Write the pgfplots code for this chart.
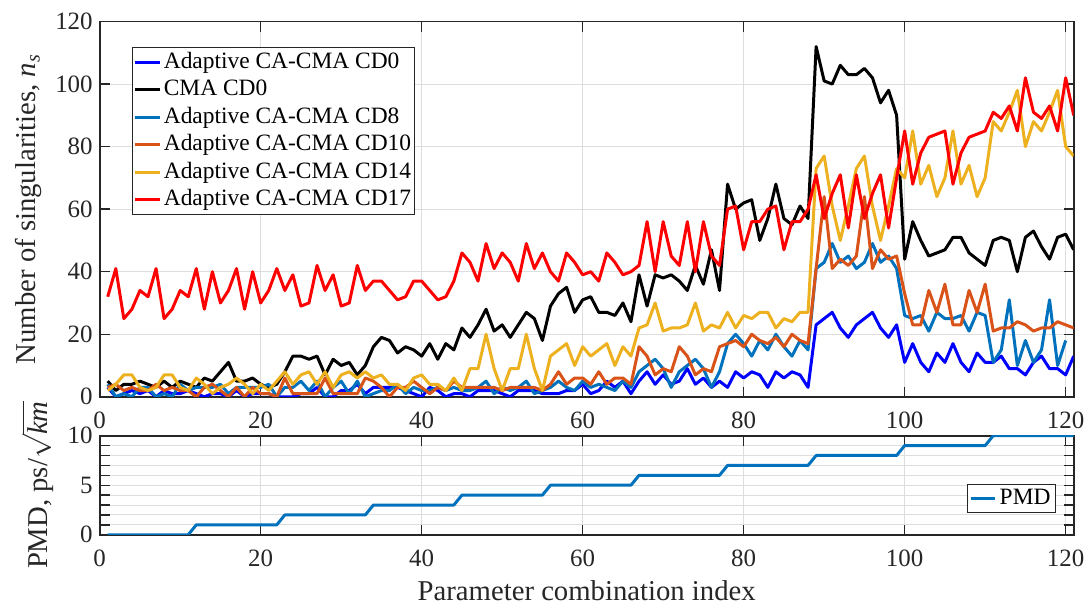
\documentclass[border=0pt]{standalone}
\usepackage{fontspec}
\setmainfont{Liberation Serif}
\usepackage{pgfplots}
\usepackage{pgfplotstable}
\pgfplotsset{compat=1.18}

\definecolor{mblue}{rgb}{0,0.447,0.741}
\definecolor{morange}{rgb}{0.851,0.325,0.098}
\definecolor{myellow}{rgb}{0.929,0.694,0.125}
\definecolor{axgray}{rgb}{0.15,0.15,0.15}
\definecolor{gridgray}{rgb}{0.87,0.87,0.87}

% singularity counts per parameter combination
\pgfplotstableread{
i cdzero cma cdeight cdten cdfourteen cdseventeen
1 3 5 4 3 2 32
2 0 2 0 4 4 41
3 1 4 1 2 7 25
4 2 4 0 3 7 28
5 1 5 3 2 3 34
6 2 4 3 2 2 32
7 0 3 0 4 3 41
8 2 5 1 2 7 25
9 1 3 0 3 7 28
10 1 5 4 2 3 34
11 2 4 2 2 2 32
12 1 3 3 0 6 41
13 0 6 3 3 4 28
14 1 5 3 4 1 40
15 1 8 4 2 3 30
16 0 11 1 0 4 34
17 2 5 3 3 6 41
18 0 5 3 0 4 28
19 1 6 3 3 1 40
20 1 4 3 1 4 30
21 1 3 4 1 2 34
22 0 4 0 0 5 41
23 0 8 3 6 8 34
24 0 13 3 1 4 39
25 1 13 5 1 7 29
26 1 12 2 1 8 30
27 3 13 5 1 4 42
28 0 7 0 6 8 34
29 0 12 3 1 3 39
30 2 10 5 1 7 29
31 2 11 1 1 8 30
32 4 7 5 1 6 42
33 1 10 0 6 8 34
34 3 16 1 5 6 37
35 3 19 2 3 7 37
36 3 18 2 0 4 34
37 3 14 4 3 4 31
38 2 16 1 3 2 32
39 1 15 3 5 6 37
40 0 13 2 3 7 37
41 3 17 2 1 4 34
42 2 12 3 3 4 31
43 0 17 2 2 2 32
44 1 15 3 5 6 37
45 1 22 2 3 2 46
46 0 19 2 3 9 43
47 2 23 3 3 9 37
48 2 28 5 3 20 49
49 2 21 1 3 9 41
50 1 23 3 2 2 46
51 0 19 2 3 9 43
52 2 23 3 3 9 37
53 2 27 5 3 20 49
54 2 25 1 3 9 41
55 1 18 2 2 2 46
56 1 29 3 4 13 40
57 1 33 5 8 15 37
58 2 35 3 4 17 46
59 2 27 2 6 10 43
60 4 31 5 6 16 39
61 1 32 3 4 13 40
62 2 27 4 8 15 37
63 5 27 3 4 17 46
64 3 26 2 6 10 43
65 5 30 5 6 16 39
66 1 24 3 4 13 40
67 5 39 8 16 22 42
68 8 29 10 13 23 56
69 4 39 12 7 30 40
70 7 38 9 9 21 56
71 4 39 3 8 22 45
72 5 37 8 16 22 42
73 9 34 10 13 23 56
74 4 42 12 7 30 40
75 6 36 9 9 21 56
76 3 47 3 8 23 45
77 5 34 8 16 22 42
78 3 68 17 17 27 60
79 8 60 20 18 22 61
80 6 62 17 16 26 47
81 8 63 13 20 25 56
82 7 50 18 18 27 56
83 3 57 15 17 27 60
84 8 68 20 19 22 61
85 6 57 16 16 25 47
86 8 55 13 20 24 56
87 7 61 18 18 27 56
88 3 57 15 17 27 60
89 23 112 41 41 73 71
90 25 101 43 64 77 57
91 27 100 49 41 61 65
92 22 106 43 44 50 71
93 19 103 45 42 61 54
94 23 103 41 45 73 71
95 25 105 43 64 77 57
96 27 102 49 41 61 65
97 22 94 43 47 50 71
98 19 98 45 44 61 54
99 23 90 41 45 73 70
100 11 44 26 33 70 85
101 17 56 25 23 85 68
102 11 50 26 23 68 78
103 8 45 21 34 74 83
104 14 46 27 27 64 84
105 11 47 25 36 70 85
106 17 51 25 23 85 68
107 11 51 26 23 68 78
108 8 46 21 34 74 83
109 14 44 27 27 64 84
110 11 42 26 36 70 85
111 11 50 11 21 88 91
112 13 51 15 22 85 89
113 9 50 31 22 91 93
114 9 40 10 24 98 85
115 7 51 18 23 80 102
116 11 53 11 21 88 91
117 13 48 15 22 85 89
118 9 44 31 22 91 93
119 9 51 10 24 98 85
120 7 52 18 23 80 102
121 13 47 nan 22 77 90
}\singtable

% PMD value of each parameter combination (corners of the staircase)
\pgfplotstableread{
i pmd
1 0
11 0
12 1
22 1
23 2
33 2
34 3
44 3
45 4
55 4
56 5
66 5
67 6
77 6
78 7
88 7
89 8
99 8
100 9
110 9
111 10
121 10
}\pmdtable

\pgfplotsset{
  mstyle/.style={
    scale only axis, width=488.5pt,
    xmin=0, xmax=121,
    xtick={0,20,...,120},
    axis line style={axgray, line width=0.9pt},
    tick style={axgray, line width=0.7pt},
    tick align=inside,
    major tick length=5pt, minor tick length=5pt,
    grid style={gridgray, line width=0.5pt},
    xmajorgrids,
    tick label style={font=\fontsize{12.5}{14}\selectfont, text=axgray},
    xticklabel style={yshift=-4.2pt},
    label style={font=\fontsize{14.4}{16}\selectfont, text=axgray},
    /pgf/number format/assume math mode=true,
    legend image code/.code={\draw[##1] (0pt,0pt) -- (12.5pt,0pt);},
    legend cell align=left,
  },
  dline/.style={line width=1.5pt, line join=round},
}

\begin{document}
\begin{tikzpicture}
\path (-50pt,199pt) rectangle (495.5pt,-103.5pt);

\begin{axis}[mstyle,
    at={(0,0)}, anchor=south west,
    height=188.2pt,
    ymin=0, ymax=120, ytick={0,20,...,120},
    ymajorgrids,
    ylabel={Number of singularities, $\mathit{n}_{\mathit{s}}$},
    legend style={at={(0.0328,0.9328)}, anchor=north west,
      draw=axgray, line width=0.5pt, fill=white,
      font=\fontsize{11.75}{13.5}\selectfont,
      inner sep=0.6pt, row sep=0pt,
      nodes={inner sep=1.3pt, text height=8.6pt, text depth=2.6pt, text=black}},
  ]
  \addplot[dline, color=blue] table[x=i, y=cdzero] {\singtable};
  \addlegendentry{Adaptive CA-CMA CD0}
  \addplot[dline, color=black] table[x=i, y=cma] {\singtable};
  \addlegendentry{CMA CD0}
  \addplot[dline, color=mblue] table[x=i, y=cdeight] {\singtable};
  \addlegendentry{Adaptive CA-CMA CD8}
  \addplot[dline, color=morange] table[x=i, y=cdten] {\singtable};
  \addlegendentry{Adaptive CA-CMA CD10}
  \addplot[dline, color=myellow] table[x=i, y=cdfourteen] {\singtable};
  \addlegendentry{Adaptive CA-CMA CD14}
  \addplot[dline, color=red] table[x=i, y=cdseventeen] {\singtable};
  \addlegendentry{Adaptive CA-CMA CD17}
\end{axis}

\begin{axis}[mstyle,
    at={(0,-19.5pt)}, anchor=north west,
    height=49.7pt,
    ymin=0, ymax=10, ytick={0,5,10},
    minor ytick={1,2,3,4,6,7,8,9},
    ymajorgrids, yminorgrids,
    xlabel={Parameter combination index},
    ylabel={PMD, ps/$\sqrt{\mathit{km}}$},
    legend style={at={(0.9816,0.22)}, anchor=south east,
      draw=axgray, line width=0.5pt, fill=white,
      font=\fontsize{11.75}{13.5}\selectfont,
      inner sep=1pt, nodes={inner sep=1.4pt, text=black}},
  ]
  \addplot[dline, color=mblue] table[x=i, y=pmd] {\pmdtable};
  \addlegendentry{PMD}
\end{axis}
\end{tikzpicture}
\end{document}
